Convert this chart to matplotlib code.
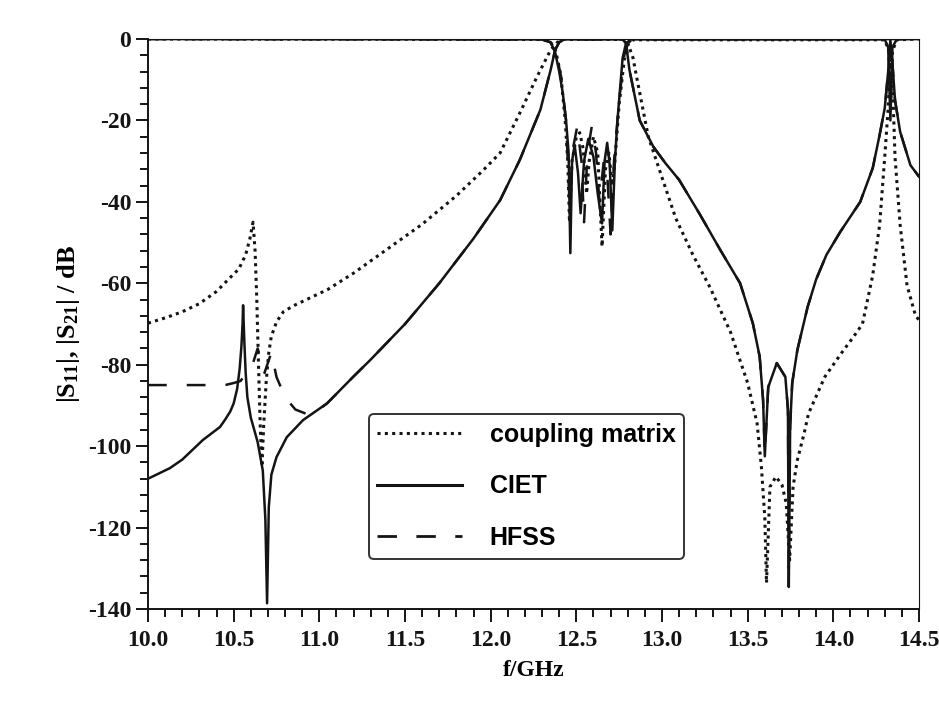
import matplotlib
matplotlib.use("Agg")
import matplotlib.pyplot as plt
from matplotlib.ticker import MultipleLocator

# coupling matrix (dotted)
cm_s21_f = [10.00, 10.10, 10.20, 10.30, 10.40, 10.47, 10.53, 10.57, 10.595, 10.613, 10.625,
            10.635, 10.645, 10.655, 10.665, 10.675, 10.69, 10.705, 10.72, 10.75, 10.79, 10.85,
            10.95, 11.05, 11.20, 11.40, 11.60, 11.80, 11.95, 12.055, 12.17, 12.27, 12.35, 12.39,
            12.42, 12.78, 12.80, 12.83, 12.855, 12.92, 13.00, 13.08, 13.18, 13.28, 13.40, 13.50,
            13.555, 13.58, 13.60, 13.61, 13.63, 13.665, 13.70, 13.725, 13.745, 13.765, 13.79,
            13.83, 13.855, 13.95, 14.05, 14.12, 14.17, 14.23, 14.27, 14.30, 14.32, 14.335,
            14.345, 14.36, 14.39, 14.43, 14.48, 14.50]
cm_s21_db = [-69.8, -68.5, -67.0, -65.0, -62.0, -59.0, -56.5, -53.0, -49.0, -45.0, -52.0,
             -64.0, -80.0, -95.0, -105.0, -95.0, -84.0, -77.0, -73.0, -69.5, -67.0, -65.5,
             -63.5, -61.5, -57.5, -51.5, -45.5, -38.5, -32.5, -28.0, -18.2, -9.3, -2.7, -0.8,
             -0.1, -0.1, -1.0, -4.5, -10.0, -24.0, -34.0, -44.0, -53.0, -61.0, -72.0, -84.5,
             -94.4, -105.0, -117.5, -133.6, -110.0, -107.5, -109.5, -114.0, -128.0, -110.0, -103.4,
             -96.8, -92.0, -83.0, -77.0, -73.0, -70.0, -58.0, -45.7, -29.0, -17.0, -3.0,
             -10.0, -29.0, -45.7, -60.5, -68.0, -69.0]

cm_s11_f = [10.00, 12.30, 12.35, 12.38, 12.41, 12.435, 12.45, 12.46, 12.475, 12.50, 12.52,
            12.54, 12.56, 12.575, 12.60, 12.625, 12.65, 12.67, 12.69, 12.71, 12.725, 12.75,
            12.78, 12.80, 12.83, 14.30, 14.325, 14.335, 14.345, 14.37, 14.50]
cm_s11_db = [0.0, -0.1, -0.8, -3.0, -9.0, -20.0, -30.0, -45.0, -30.0, -24.0, -23.0,
             -27.0, -38.0, -30.0, -24.0, -28.0, -51.0, -32.0, -28.0, -36.0, -30.0, -16.0,
             -5.0, -1.5, -0.2, -0.2, -3.0, -15.0, -3.0, -0.2, 0.0]

# CIET (solid)
ciet_s21_f = [10.00, 10.128, 10.20, 10.32, 10.42, 10.45, 10.48, 10.50, 10.52, 10.535, 10.545,
              10.552, 10.555, 10.562, 10.57, 10.58, 10.60, 10.64, 10.67, 10.685, 10.695,
              10.705, 10.72, 10.75, 10.81, 10.905, 11.045, 11.197, 11.296, 11.50, 11.70, 11.90,
              12.055, 12.17, 12.29, 12.35, 12.376, 12.40, 12.43, 12.77, 12.79, 12.81, 12.87,
              12.95, 13.02, 13.10, 13.22, 13.34, 13.456, 13.53, 13.57, 13.59, 13.60, 13.62,
              13.67, 13.72, 13.735, 13.74, 13.748, 13.76, 13.79, 13.85, 13.90, 13.96, 14.04,
              14.157, 14.23, 14.27, 14.30, 14.32, 14.333, 14.345, 14.36, 14.39, 14.45, 14.50]
ciet_s21_db = [-108.0, -105.4, -103.3, -98.5, -95.3, -93.5, -91.5, -89.5, -86.0, -81.0, -75.6,
               -70.0, -65.4, -74.0, -82.0, -88.0, -93.0, -99.0, -106.0, -118.0, -138.6,
               -115.0, -107.0, -102.7, -97.8, -93.6, -89.5, -83.0, -78.9, -70.0, -60.0, -49.0,
               -39.6, -29.7, -17.4, -7.6, -2.7, -0.8, -0.1, -0.1, -1.0, -7.6, -20.0,
               -26.5, -30.5, -34.6, -43.0, -51.8, -60.0, -69.8, -78.0, -88.7, -102.5, -85.5,
               -79.6, -83.0, -91.0, -134.6, -95.0, -84.5, -76.4, -65.8, -59.0, -53.0, -47.4,
               -40.0, -31.7, -23.6, -17.0, -8.0, -0.3, -6.0, -15.0, -22.8, -31.0, -33.8]

ciet_s11_f = [10.00, 12.30, 12.35, 12.376, 12.40, 12.42, 12.44, 12.455, 12.465, 12.475,
              12.49, 12.51, 12.525, 12.545, 12.57, 12.60, 12.625, 12.65, 12.665, 12.68,
              12.695, 12.71, 12.725, 12.74, 12.77, 12.79, 12.82, 14.30, 14.32, 14.333,
              14.345, 14.37, 14.50]
ciet_s11_db = [0.0, -0.1, -0.8, -3.2, -8.0, -13.0, -20.0, -28.0, -52.6, -30.0,
               -26.0, -33.0, -42.8, -30.0, -24.5, -29.0, -38.0, -45.3, -30.0, -25.5,
               -31.0, -47.0, -30.0, -20.0, -4.7, -1.0, -0.1, -0.1, -2.0, -20.0,
               -2.0, -0.1, 0.0]

# HFSS (dashed)
hfss_s21_f = [10.00, 10.45, 10.50, 10.54, 10.61, 10.64, 10.68, 10.72, 10.75, 10.80, 10.86,
              10.95, 11.045, 11.197, 11.296, 11.50, 11.70, 11.90, 12.055, 12.17, 12.29,
              12.35, 12.376, 12.40, 12.43, 12.77, 12.79, 12.81, 12.87, 12.95, 13.02, 13.10,
              13.22, 13.34, 13.456, 13.53, 13.57, 13.59, 13.60, 13.62, 13.67, 13.72, 13.735,
              13.74, 13.748, 13.76, 13.79, 13.85, 13.90, 13.96, 14.04, 14.157, 14.23, 14.27,
              14.30, 14.32, 14.333, 14.345, 14.36, 14.39, 14.45, 14.50]
hfss_s21_db = [-85.0, -85.0, -84.5, -84.0, -80.0, -76.0, -82.0, -77.0, -83.0, -88.0, -91.0,
               -92.5, -89.5, -83.0, -78.9, -70.0, -60.0, -49.0, -39.6, -29.7, -17.4,
               -7.6, -2.7, -0.8, -0.1, -0.1, -1.0, -7.6, -20.0, -26.5, -30.5, -34.6,
               -43.0, -51.8, -60.0, -69.8, -78.0, -88.7, -102.0, -85.5, -79.6, -83.0, -91.0,
               -130.0, -95.0, -84.5, -76.4, -65.8, -59.0, -53.0, -47.4, -40.0, -31.7, -23.6,
               -17.0, -8.0, -0.3, -6.0, -15.0, -22.8, -31.0, -33.8]

hfss_s11_f = [10.00, 12.30, 12.35, 12.38, 12.41, 12.44, 12.46, 12.48, 12.505, 12.53, 12.545,
              12.565, 12.59, 12.615, 12.635, 12.66, 12.68, 12.70, 12.72, 12.75, 12.78, 12.80,
              12.83, 14.50]
hfss_s11_db = [0.0, -0.1, -0.8, -3.0, -9.0, -20.0, -40.0, -27.0, -21.5, -30.0, -45.0,
               -28.0, -21.5, -28.0, -40.0, -30.0, -33.0, -48.0, -30.0, -15.0, -4.0, -1.0,
               -0.1, 0.0]

xticks = [10.0, 10.5, 11.0, 11.5, 12.0, 12.5, 13.0, 13.5, 14.0, 14.5]
yticks = [0, -20, -40, -60, -80, -100, -120, -140]

plt.rcParams['mathtext.fontset'] = 'custom'
plt.rcParams['mathtext.rm'] = 'Liberation Serif:bold'
plt.rcParams['mathtext.it'] = 'Liberation Serif:bold'
plt.rcParams['mathtext.bf'] = 'Liberation Serif:bold'

fig = plt.figure(figsize=(9.39, 7.08), dpi=100)
ax = fig.add_axes([148 / 939, 1 - 609 / 708, 771 / 939, 570 / 708])

ink = '#141414'
dot = (0, (1.0, 1.4))
dash = (0, (7.5, 8))

ax.plot(cm_s21_f, cm_s21_db, color=ink, lw=2.2, ls=dot)
ax.plot(cm_s11_f, cm_s11_db, color=ink, lw=2.2, ls=dot)
ax.plot(hfss_s21_f, hfss_s21_db, color=ink, lw=1.8, ls=dash)
ax.plot(hfss_s11_f, hfss_s11_db, color=ink, lw=1.8, ls=dash)
ax.plot(ciet_s21_f, ciet_s21_db, color=ink, lw=1.8)
ax.plot(ciet_s11_f, ciet_s11_db, color=ink, lw=1.8)

# legend handles
h_cm, = ax.plot([], [], color=ink, lw=2.2, ls=dot)
h_ciet, = ax.plot([], [], color=ink, lw=2.2)
h_hfss, = ax.plot([], [], color=ink, lw=2.0, ls=(0, (7, 7)))

ax.set_xlim(10.0, 14.5)
ax.set_ylim(-140, 0)
ax.set_xticks(xticks)
ax.set_yticks(yticks)
ax.set_xticklabels([f'{t:.1f}' for t in xticks])
ax.set_yticklabels([str(t) for t in yticks])
ax.xaxis.set_minor_locator(MultipleLocator(0.1))
ax.yaxis.set_minor_locator(MultipleLocator(4))
ax.tick_params(which='both', direction='out', top=False, right=False, width=1.4, colors=ink)
ax.tick_params(which='major', length=9, pad=3)
ax.tick_params(axis='x', which='major', pad=6)
ax.tick_params(which='minor', length=5.5)
for lab in ax.get_xticklabels() + ax.get_yticklabels():
    lab.set_fontfamily('Liberation Serif')
    lab.set_fontweight('bold')
    lab.set_fontsize(17)
for s in ax.spines.values():
    s.set_linewidth(1.4)
    s.set_color(ink)
ax.spines['top'].set_linewidth(0.8)
ax.spines['right'].set_linewidth(0.8)

ax.set_xlabel('f/GHz', fontfamily='Liberation Serif', fontweight='bold', fontsize=17)
ax.set_ylabel(r'$|S_{11}|$, $|S_{21}|$ / dB', fontfamily='Liberation Serif',
              fontweight='bold', fontsize=19)
ax.xaxis.set_label_coords(0.5, -0.09)
ax.yaxis.set_label_coords(-0.085, 0.5)

leg = ax.legend([h_cm, h_ciet, h_hfss], ['coupling matrix', 'CIET', 'HFSS'],
                loc='center', bbox_to_anchor=(0.491, 0.215),
                prop={'family': 'Liberation Sans', 'weight': 'bold', 'size': 18},
                handlelength=3.4, handletextpad=1.1, borderpad=0.35, labelspacing=1.1,
                fancybox=True, framealpha=1, edgecolor='#333333')
leg.get_frame().set_linewidth(1.4)

fig.savefig('out.png', dpi=100)
